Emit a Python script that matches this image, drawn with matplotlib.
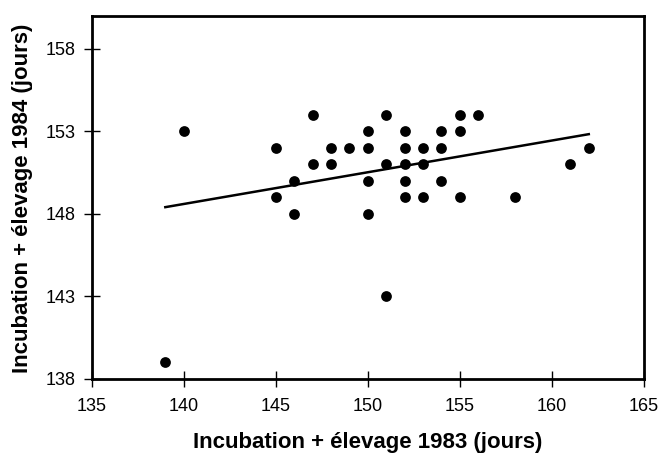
import matplotlib
matplotlib.use("Agg")
import matplotlib.pyplot as plt
import numpy as np

x1983 = [139, 140, 145, 145, 146, 146, 147, 147, 148, 148, 149, 150, 150, 150, 150,
         151, 151, 151, 152, 152, 152, 152, 152, 153, 153, 153, 154, 154, 154,
         155, 155, 155, 156, 158, 161, 162]
y1984 = [139, 153, 152, 149, 150, 148, 154, 151, 152, 151, 152, 153, 152, 150, 148,
         154, 151, 143, 153, 152, 151, 150, 149, 152, 151, 149, 153, 152, 150,
         154, 153, 149, 154, 149, 151, 152]
xticks = [135, 140, 145, 150, 155, 160, 165]
yticks = [138, 143, 148, 153, 158]

plt.rcParams['font.family'] = ['Liberation Sans', 'DejaVu Sans']
fig = plt.figure(figsize=(6.61, 4.57), dpi=100)
ax = fig.add_axes([0.1387, 0.1707, 0.8356, 0.7943])

ax.scatter(x1983, y1984, s=60, color='black', zorder=3, linewidths=0)
xa = np.array(x1983, float); ya = np.array(y1984, float)
m, b = np.polyfit(xa, ya, 1)
xs = np.array([xa.min(), xa.max()])
ax.plot(xs, m * xs + b, color='black', lw=1.8)

ax.set_xlim(135, 165)
ax.set_ylim(138, 160)
ax.set_xticks(xticks)
ax.set_yticks(yticks)
ax.tick_params(direction='inout', length=11, width=1, labelsize=13)
ax.tick_params(axis='x', pad=8)
ax.tick_params(axis='y', pad=6)
for s in ax.spines.values():
    s.set_linewidth(2)
ax.set_xlabel('Incubation + élevage 1983 (jours)', fontsize=16, fontweight='bold')
ax.set_ylabel('Incubation + élevage 1984 (jours)', fontsize=16, fontweight='bold')
ax.xaxis.label.set_va('center')
ax.yaxis.label.set_va('center')
ax.xaxis.set_label_coords(0.5, -0.175)
ax.yaxis.set_label_coords(-0.126, 0.497)
fig.savefig('out.png', dpi=100)
